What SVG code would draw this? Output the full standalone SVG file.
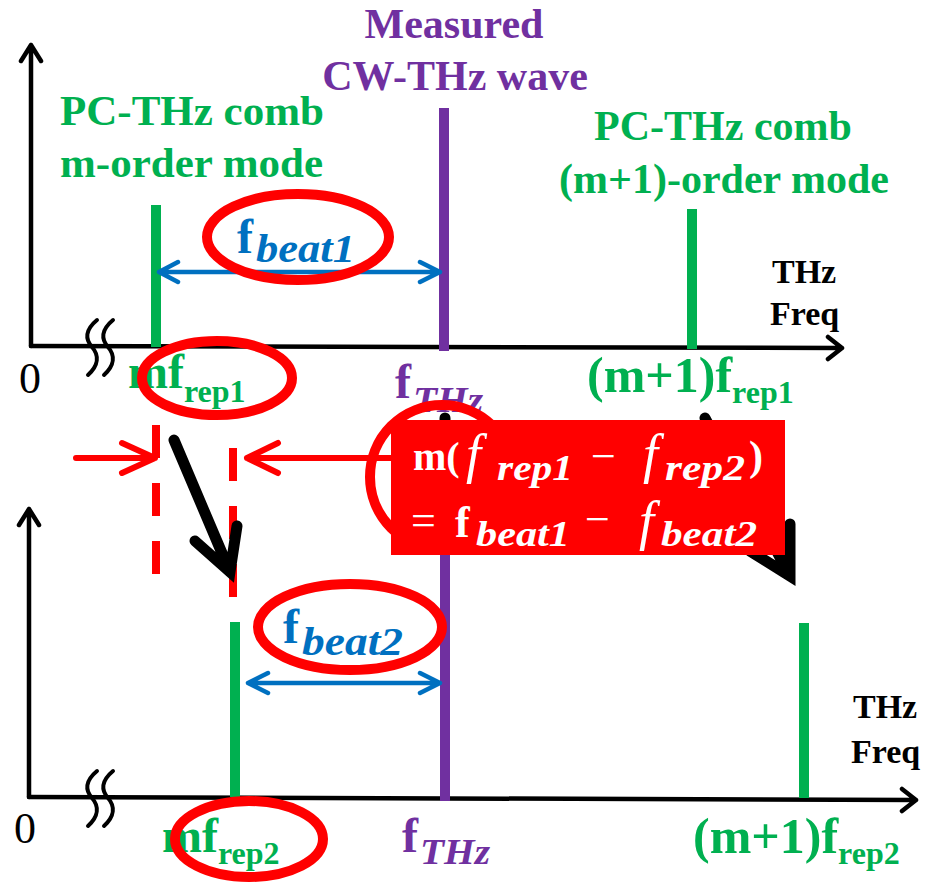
<svg xmlns="http://www.w3.org/2000/svg" width="926" height="882" viewBox="0 0 926 882">
<style>
.ax{fill:none;stroke:#000;stroke-width:4.5;stroke-linecap:round;stroke-linejoin:round}
.brk{fill:none;stroke:#000;stroke-width:4;stroke-linecap:round}
.gl{stroke:#00B050;stroke-width:10}
.pl{stroke:#7030A0;stroke-width:10}
.bl{fill:none;stroke:#0070C0;stroke-width:4.5;stroke-linecap:round;stroke-linejoin:round}
.rd{fill:none;stroke:#FF0000;stroke-width:6;stroke-linecap:round;stroke-linejoin:round}
.dash{stroke:#FF0000;stroke-width:8;stroke-dasharray:33 25}
.ell{fill:none;stroke:#FF0000;stroke-width:10}
.blk{fill:none;stroke:#000;stroke-width:11;stroke-linecap:round;stroke-linejoin:miter}
text{font-family:"Liberation Serif","Times New Roman",serif}
.g{fill:#00B050;font-weight:bold}
.p{fill:#7030A0;font-weight:bold}
.b{fill:#0070C0;font-weight:bold}
.k{fill:#000;font-weight:bold}
.w{fill:#fff}
.it{font-style:italic;font-weight:bold}
.fi{fill:#fff;font-style:italic;font-size:54px}
</style>

<!-- Upper chart -->
<g id="upper-axes">
  <path class="ax" d="M31,346 V45 M21,61 L31,45 L41,61"/>
  <path class="ax" d="M31,346 L842,348 M828,337 L842,348 L828,359"/>
  <path class="brk" d="M97,320 C85,330 85,339 92,347 C99,355 99,365 88,375"/>
  <path class="brk" d="M113,320 C101,330 101,339 108,347 C115,355 115,365 104,375"/>
  <text x="19" y="393" font-size="44" fill="#000">0</text>
  <text class="k" x="772" y="283" font-size="34">THz</text>
  <text class="k" x="770" y="325" font-size="34">Freq</text>
</g>
<g id="upper-m-mode">
  <line class="gl" x1="156" y1="205" x2="156" y2="347"/>
  <text class="g" x="60" y="125" font-size="43">PC-THz comb</text>
  <text class="g" x="60" y="177" font-size="43">m-order mode</text>
  <text class="g" x="128" y="388" font-size="48">mf<tspan font-size="32" dy="14">rep1</tspan></text>
</g>
<g id="upper-thz">
  <line class="pl" x1="444" y1="108" x2="444" y2="351"/>
  <text class="p" x="454" y="38" font-size="42" text-anchor="middle">Measured</text>
  <text class="p" x="455" y="90" font-size="42" text-anchor="middle">CW-THz wave</text>
  <text class="p" x="395" y="398" font-size="48">f</text>
  <text class="p it" x="413" y="412" font-size="36" textLength="70" lengthAdjust="spacingAndGlyphs">THz</text>
</g>
<g id="upper-m1-mode">
  <line class="gl" x1="692" y1="209" x2="692" y2="349"/>
  <text class="g" x="723" y="140" font-size="42" text-anchor="middle">PC-THz comb</text>
  <text class="g" x="724" y="193" font-size="42" text-anchor="middle">(m+1)-order mode</text>
  <text class="g" x="587" y="392" font-size="50">(m+1)f<tspan font-size="32" dy="11">rep1</tspan></text>
</g>
<g id="upper-beat">
  <text class="b" x="237" y="253" font-size="48">f</text>
  <text class="b it" x="256" y="262" font-size="39" textLength="99" lengthAdjust="spacingAndGlyphs">beat1</text>
</g>

<!-- Lower chart -->
<g id="lower-axes">
  <path class="ax" d="M29,797 V509 M19,525 L29,509 L39,525"/>
  <path class="ax" d="M29,797 L916,800 M902,789 L916,800 L902,811"/>
  <path class="brk" d="M97,771 C85,781 85,790 92,798 C99,806 99,816 88,826"/>
  <path class="brk" d="M113,771 C101,781 101,790 108,798 C115,806 115,816 104,826"/>
  <text x="14" y="843" font-size="44" fill="#000">0</text>
  <text class="k" x="853" y="718" font-size="34">THz</text>
  <text class="k" x="851" y="763" font-size="34">Freq</text>
</g>
<g id="lower-m-mode">
  <line class="gl" x1="235" y1="622" x2="235" y2="797"/>
  <text class="g" x="162" y="852" font-size="48">mf<tspan font-size="32" dy="12">rep2</tspan></text>
</g>
<g id="lower-thz">
  <line class="pl" x1="445" y1="520" x2="445" y2="801"/>
  <text class="p" x="402" y="852" font-size="48">f</text>
  <text class="p it" x="420" y="864" font-size="36" textLength="70" lengthAdjust="spacingAndGlyphs">THz</text>
</g>
<g id="lower-m1-mode">
  <line class="gl" x1="804" y1="623" x2="804" y2="798"/>
  <text class="g" x="693" y="853" font-size="50">(m+1)f<tspan font-size="32" dy="11">rep2</tspan></text>
</g>
<g id="lower-beat">
  <text class="b" x="283" y="643" font-size="48">f</text>
  <text class="b it" x="302" y="655" font-size="39" textLength="101" lengthAdjust="spacingAndGlyphs">beat2</text>
</g>

<!-- Connectors -->
<g id="connectors">
  <path class="bl" d="M159,272 H440 M178,262 L159,272 L178,282 M420,262 L440,272 L420,282"/>
  <path class="bl" d="M248,683 H440 M268,673 L248,683 L268,693 M420,673 L440,683 L420,693"/>
  <line class="dash" x1="156" y1="425" x2="156" y2="576"/>
  <line class="dash" x1="233" y1="448" x2="233" y2="598"/>
  <path class="rd" d="M76,458 H155 M122,443 L155,458 L122,473"/>
  <path class="rd" d="M391,458 H247 M278,443 L247,458 L278,473"/>
  <path class="blk" d="M174,440 L230,572 M195,541 L230,572 L237,526"/>
  <path class="blk" d="M445,418 V540 M425,520 L445,540 L465,520"/>
  <path class="blk" d="M705,418 L790,576 M750,551 L790,576 L790,524"/>
</g>

<!-- Highlight ellipses -->
<g id="highlights">
  <ellipse class="ell" cx="298" cy="237" rx="91" ry="43"/>
  <ellipse class="ell" cx="217" cy="378" rx="75" ry="37"/>
  <ellipse class="ell" cx="350" cy="627" rx="92" ry="43"/>
  <ellipse class="ell" cx="249" cy="839" rx="74" ry="38"/>
  <circle class="ell" cx="442" cy="477" r="72"/>
</g>

<!-- Equation box -->
<g id="equation-box">
  <rect x="391" y="420" width="394" height="135" fill="#FF0000"/>
  <text class="w" x="413" y="470" font-size="40" font-weight="bold">m(</text>
  <text class="fi" x="466" y="472">f</text>
  <text class="w it" x="497" y="480" font-size="36" textLength="76" lengthAdjust="spacingAndGlyphs">rep1</text>
  <text class="w" x="591" y="471" font-size="44">−</text>
  <text class="fi" x="643" y="472">f</text>
  <text class="w it" x="665" y="480" font-size="36" textLength="80" lengthAdjust="spacingAndGlyphs">rep2</text>
  <text class="w" x="749" y="470" font-size="42" font-weight="bold">)</text>
  <text class="w" x="411" y="535" font-size="44">=</text>
  <text class="w" x="455" y="537" font-size="44" font-weight="bold">f</text>
  <text class="w it" x="476" y="546" font-size="36" textLength="94" lengthAdjust="spacingAndGlyphs">beat1</text>
  <text class="w" x="585" y="534" font-size="44">−</text>
  <text class="fi" x="639" y="539">f</text>
  <text class="w it" x="661" y="546" font-size="36" textLength="96" lengthAdjust="spacingAndGlyphs">beat2</text>
</g>
</svg>
